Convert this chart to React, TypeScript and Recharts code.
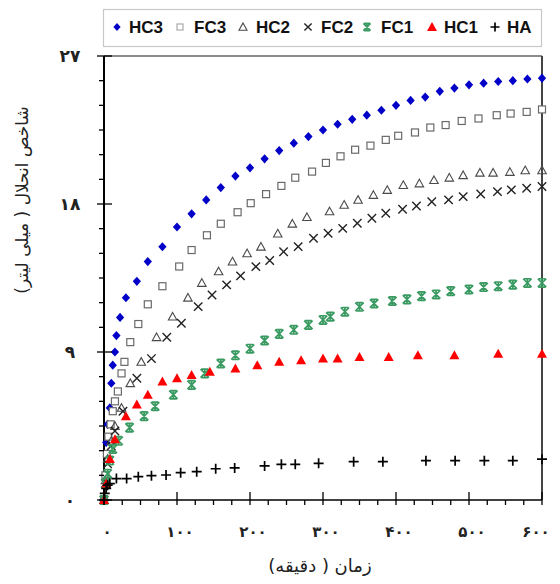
import React from 'react';
import { ScatterChart, Scatter, XAxis, YAxis, ReferenceLine } from 'recharts';

// ---- data: [time (min), value (ml)] ----
const HC3: number[][] = [
  [0, 0], [1, 1.5], [3, 3.5], [5, 4.6], [8, 5.6], [10, 7.1], [12, 8.2], [15, 9.0], [17, 10.0], [22, 11.1],
  [30, 12.3], [45, 13.3], [60, 14.5], [80, 15.4], [100, 16.6], [120, 17.4], [140, 18.25], [160, 19.0], [180, 19.7], [200, 20.2],
  [220, 20.75], [240, 21.25], [260, 21.7], [280, 22.1], [300, 22.5], [320, 22.85], [340, 23.15], [360, 23.4], [380, 23.7], [400, 24.0],
  [420, 24.3], [440, 24.5], [460, 24.85], [480, 25.05], [500, 25.25], [520, 25.35], [540, 25.45], [560, 25.5], [580, 25.6], [600, 25.65],
];
const FC3: number[][] = [
  [0, 0], [2, 1.5], [4, 2.8], [6, 3.85], [9, 4.6], [12, 5.4], [15, 6.0], [19, 6.6], [24, 7.7], [28, 8.4],
  [36, 9.6], [47, 10.7], [60, 11.9], [80, 13.0], [103, 14.2], [120, 15.2], [141, 16.1], [160, 16.8], [183, 17.5], [201, 18.05],
  [222, 18.6], [243, 19.1], [262, 19.6], [285, 19.97], [304, 20.5], [324, 20.9], [344, 21.3], [365, 21.55], [386, 21.9], [403, 22.15],
  [426, 22.35], [447, 22.65], [468, 22.8], [490, 23.05], [513, 23.2], [538, 23.4], [557, 23.5], [579, 23.6], [600, 23.75],
];
const HC2: number[][] = [
  [0, 0], [2, 1.2], [5, 2.5], [10, 3.6], [15, 4.5], [24, 5.6], [36, 7.1], [51, 8.4], [72, 9.9], [94, 11.15],
  [115, 12.3], [134, 13.2], [157, 13.9], [176, 14.5], [196, 15.0], [215, 15.4], [238, 16.2], [258, 16.8], [278, 17.2], [309, 17.55],
  [329, 17.95], [348, 18.25], [369, 18.55], [388, 18.85], [410, 19.15], [432, 19.25], [452, 19.45], [473, 19.6], [492, 19.75], [515, 19.9],
  [533, 19.9], [556, 19.95], [577, 20.05], [600, 20.05],
];
const FC2: number[][] = [
  [0, 0], [2, 1.0], [5, 2.2], [10, 3.3], [15, 4.2], [26, 5.4], [45, 7.4], [65, 8.6], [86, 9.9], [106, 10.75],
  [129, 11.76], [148, 12.47], [168, 13.08], [187, 13.63], [208, 14.19], [227, 14.56], [246, 15.1], [266, 15.41], [287, 15.92], [307, 16.22],
  [327, 16.52], [347, 16.83], [367, 17.13], [386, 17.44], [409, 17.68], [428, 17.88], [449, 18.14], [472, 18.25], [492, 18.45], [516, 18.61],
  [539, 18.75], [558, 18.86], [579, 18.96], [600, 19.06],
];
const FC1: number[][] = [
  [0, 0], [2, 1.0], [5, 1.6], [8, 2.4], [12, 3.1], [20, 3.6], [35, 4.4], [55, 5.1], [70, 5.7], [95, 6.4],
  [120, 7.0], [138, 7.7], [160, 8.3], [180, 8.8], [200, 9.2], [220, 9.7], [240, 10.1], [260, 10.35], [280, 10.65], [300, 10.95],
  [310, 11.15], [330, 11.45], [350, 11.75], [370, 11.95], [395, 12.1], [415, 12.2], [435, 12.4], [455, 12.5], [475, 12.7], [500, 12.8],
  [520, 12.95], [540, 13.0], [560, 13.1], [580, 13.2], [600, 13.2],
];
const HC1: number[][] = [
  [0, 0], [3, 1.0], [8, 2.5], [15, 3.7], [30, 5.1], [45, 5.8], [60, 6.4], [80, 7.2], [100, 7.4], [120, 7.6],
  [145, 7.8], [180, 8.0], [210, 8.2], [240, 8.4], [270, 8.5], [300, 8.6], [320, 8.6], [350, 8.7], [390, 8.7], [430, 8.8],
  [480, 8.8], [540, 8.9], [600, 8.9],
];
const HA: number[][] = [
  [0, 0], [1, 0.4], [3, 0.7], [5, 0.9], [8, 1.0], [17, 1.3], [31, 1.3], [47, 1.42], [65, 1.48], [85, 1.52],
  [105, 1.66], [127, 1.72], [153, 1.9], [179, 1.95], [220, 2.07], [243, 2.17], [262, 2.17], [294, 2.23], [342, 2.33], [382, 2.33],
  [441, 2.39], [481, 2.39], [521, 2.39], [560, 2.39], [600, 2.48],
];

// ---- ticks ----
const yTicks = [0, 1.5, 3, 4.5, 6, 7.5, 9, 10.5, 12, 13.5, 15, 16.5, 18, 19.5, 21, 22.5, 24, 25.5, 27];
const yLabelValues = [0, 9, 18, 27];
const yLabelTexts = ['۰', '۹', '۱۸', '۲۷'];
const xTicks = [0, 25, 50, 75, 100, 125, 150, 175, 200, 225, 250, 275, 300, 325, 350, 375, 400, 425, 450, 475, 500, 525, 550, 575, 600];
const xLabelValues = [0, 100, 200, 300, 400, 500, 600];
const xLabelTexts = ['۰', '۱۰۰', '۲۰۰', '۳۰۰', '۴۰۰', '۵۰۰', '۶۰۰'];

const seriesNames = ['HC3', 'FC3', 'HC2', 'FC2', 'FC1', 'HC1', 'HA'];

const toPts = (a: number[][]) => a.map(([x, y]) => ({ x, y }));

const BLUE = '#0000c8';
const GRAY = '#6a6a6a';
const DARK = '#4a4a4a';
const GREEN = '#3a9a62';
const RED = '#ff0000';

type MP = { cx?: number; cy?: number };

const Diamond = ({ cx = 0, cy = 0, r = 4.6 }: MP & { r?: number }) => (
  <path d={`M${cx},${cy - r}L${cx + r * 0.9},${cy}L${cx},${cy + r}L${cx - r * 0.9},${cy}Z`} fill={BLUE} />
);
const Square = ({ cx = 0, cy = 0, s = 7, c = GRAY }: MP & { s?: number; c?: string }) => (
  <rect x={cx - s / 2} y={cy - s / 2} width={s} height={s} fill="#fff" stroke={c} strokeWidth={1.2} />
);
const TriOpen = ({ cx = 0, cy = 0, s = 8.5 }: MP & { s?: number }) => (
  <path d={`M${cx},${cy - s * 0.5}L${cx + s / 2},${cy + s * 0.4}L${cx - s / 2},${cy + s * 0.4}Z`} fill="#fff" fillOpacity={0.01} stroke={DARK} strokeWidth={1.1} />
);
const Cross = ({ cx = 0, cy = 0, r = 4.2 }: MP & { r?: number }) => (
  <path d={`M${cx - r},${cy - r}L${cx + r},${cy + r}M${cx - r},${cy + r}L${cx + r},${cy - r}`} stroke="#222" strokeWidth={1.4} />
);
const Star = ({ cx = 0, cy = 0, r = 4.2 }: MP & { r?: number }) => (
  <path d={`M${cx - r},${cy - r}L${cx + r},${cy + r}M${cx - r},${cy + r}L${cx + r},${cy - r}M${cx},${cy - r}L${cx},${cy + r}M${cx - r * 0.8},${cy - r}L${cx + r * 0.8},${cy - r}M${cx - r * 0.8},${cy + r}L${cx + r * 0.8},${cy + r}`} stroke={GREEN} strokeWidth={1.7} />
);
const TriFill = ({ cx = 0, cy = 0, s = 10 }: MP & { s?: number }) => (
  <path d={`M${cx},${cy - s * 0.5}L${cx + s / 2},${cy + s * 0.4}L${cx - s / 2},${cy + s * 0.4}Z`} fill={RED} />
);
const Plus = ({ cx = 0, cy = 0, r = 5 }: MP & { r?: number }) => (
  <path d={`M${cx - r},${cy}L${cx + r},${cy}M${cx},${cy - r}L${cx},${cy + r}`} stroke="#000" strokeWidth={1.7} />
);

const persianFont = '"DejaVu Sans", sans-serif';

const YTick = (props: any) => {
  const { x, y, payload } = props;
  const v = payload.value;
  const idx = yLabelValues.indexOf(v);
  const major = idx >= 0;
  return (
    <g>
      <line x1={x - (major ? 7 : 5)} x2={major ? x + 8 : x} y1={y} y2={y} stroke="#000" strokeWidth={1.3} />
      {major && (
        <text x={x - 34} y={y} textAnchor="middle" dominantBaseline="central" fontFamily={persianFont} fontSize={17} fontWeight="bold" fill="#222">
          {yLabelTexts[idx]}
        </text>
      )}
    </g>
  );
};

const XTick = (props: any) => {
  const { x, y, payload } = props;
  const v = payload.value;
  const idx = xLabelValues.indexOf(v);
  const major = idx >= 0;
  return (
    <g>
      <line x1={x} x2={x} y1={major ? y - 8 : y} y2={y + 5} stroke="#000" strokeWidth={1.3} />
      {major && (
        <text x={x + (v === 600 ? -6 : 3)} y={y + 32} textAnchor="middle" dominantBaseline="central" fontFamily={persianFont} fontSize={15} fontWeight="bold" fill="#222">
          {xLabelTexts[idx]}
        </text>
      )}
    </g>
  );
};

const legendMarkers = [
  (cx: number, cy: number) => <Diamond cx={cx} cy={cy} r={4} />,
  (cx: number, cy: number) => <Square cx={cx} cy={cy} s={6} c="#aaa" />,
  (cx: number, cy: number) => <TriOpen cx={cx} cy={cy} s={8} />,
  (cx: number, cy: number) => <Cross cx={cx} cy={cy} r={3.6} />,
  (cx: number, cy: number) => <Star cx={cx} cy={cy} r={3.6} />,
  (cx: number, cy: number) => <TriFill cx={cx} cy={cy} s={10} />,
  (cx: number, cy: number) => <Plus cx={cx} cy={cy} r={4.5} />,
];
const legendMarkerX = [117, 180, 243, 308, 367, 432, 495];
const legendTextX = [129, 194, 256, 321, 381, 444, 507];

export default function App() {
  return (
    <div style={{ position: 'absolute', left: 0, top: 0, width: 560, height: 584, background: '#fff' }}>
      <ScatterChart width={560} height={584} margin={{ top: 56, right: 18, bottom: 0, left: 0 }} style={{ overflow: 'visible' }}>
        <XAxis
          type="number"
          dataKey="x"
          domain={[0, 600]}
          ticks={xTicks}
          interval={0}
          tickSize={0}
          tickMargin={0}
          tickLine={false}
          axisLine={{ stroke: '#000', strokeWidth: 1.5 }}
          tick={(p: any) => <XTick {...p} />}
          height={84}
        />
        <YAxis
          type="number"
          dataKey="y"
          domain={[0, 27]}
          ticks={yTicks}
          interval={0}
          tickSize={0}
          tickMargin={0}
          tickLine={false}
          axisLine={{ stroke: '#000', strokeWidth: 2 }}
          tick={(p: any) => <YTick {...p} />}
          width={104}
        />
        <ReferenceLine y={27} stroke="#666" strokeWidth={1.5} />
        <ReferenceLine x={600} stroke="#444" strokeWidth={2} />
        <Scatter name={seriesNames[0]} data={toPts(HC3)} isAnimationActive={false} shape={(p: any) => <Diamond cx={p.cx} cy={p.cy} />} />
        <Scatter name={seriesNames[1]} data={toPts(FC3)} isAnimationActive={false} shape={(p: any) => <Square cx={p.cx} cy={p.cy} />} />
        <Scatter name={seriesNames[2]} data={toPts(HC2)} isAnimationActive={false} shape={(p: any) => <TriOpen cx={p.cx} cy={p.cy} />} />
        <Scatter name={seriesNames[3]} data={toPts(FC2)} isAnimationActive={false} shape={(p: any) => <Cross cx={p.cx} cy={p.cy} />} />
        <Scatter name={seriesNames[4]} data={toPts(FC1)} isAnimationActive={false} shape={(p: any) => <Star cx={p.cx} cy={p.cy} />} />
        <Scatter name={seriesNames[5]} data={toPts(HC1)} isAnimationActive={false} shape={(p: any) => <TriFill cx={p.cx} cy={p.cy} />} />
        <Scatter name={seriesNames[6]} data={toPts(HA)} isAnimationActive={false} shape={(p: any) => <Plus cx={p.cx} cy={p.cy} />} />
      </ScatterChart>
      <svg width={560} height={584} style={{ position: 'absolute', left: 0, top: 0, pointerEvents: 'none' }}>
        <rect x={103.5} y={9.5} width={438} height={37} fill="#fff" stroke="#c8c8c8" strokeWidth={1.2} />
        {seriesNames.map((n, i) => (
          <g key={n}>
            {legendMarkers[i](legendMarkerX[i], 27)}
            <text x={legendTextX[i]} y={33} fontFamily='"Liberation Sans", Arial, sans-serif' fontWeight="bold" fontSize={17} fill="#111">
              {n}
            </text>
          </g>
        ))}
        <text x={320} y={565} textAnchor="middle" dominantBaseline="central" direction="rtl" fontFamily={persianFont} fontSize={18} fill="#222">
          زمان ( دقیقه)
        </text>
        <text transform="translate(22,200) rotate(-90)" textAnchor="middle" dominantBaseline="central" direction="rtl" fontFamily={persianFont} fontSize={17} fill="#222">
          شاخص انحلال ( میلی لیتر)
        </text>
      </svg>
    </div>
  );
}
